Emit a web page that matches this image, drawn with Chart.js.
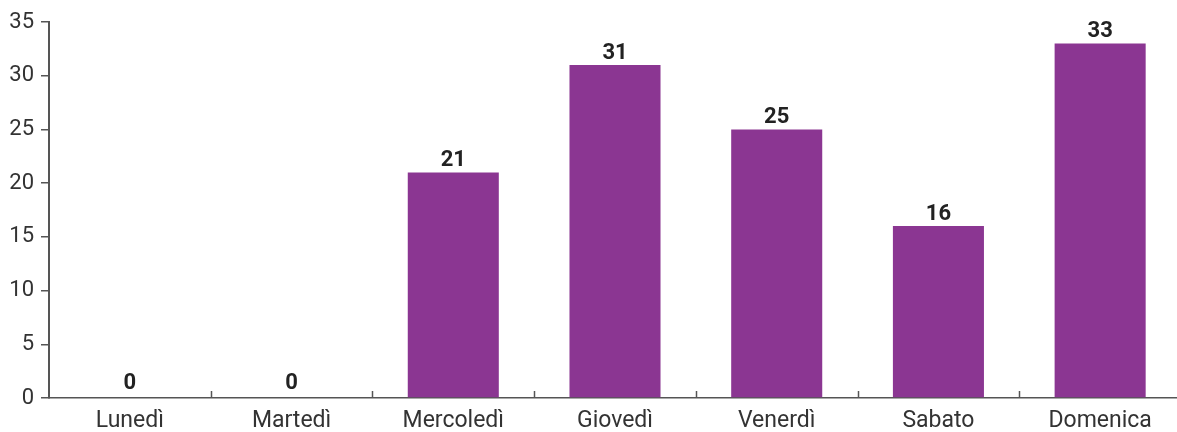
<!DOCTYPE html>
<html>
<head>
<meta charset="utf-8">
<script src="https://cdn.jsdelivr.net/npm/chart.js@4/dist/chart.umd.min.js"></script>
<style>
  html, body { margin: 0; padding: 0; background: #ffffff; }
  #wrap { width: 1177px; height: 432px; position: relative; overflow: hidden; }
  #c { display: block; }
</style>
</head>
<body>
<div id="wrap"><canvas id="c" width="1181" height="432"></canvas></div>
<script>
// Giorni della settimana e conteggi
const categories = ['Lunedì', 'Martedì', 'Mercoledì', 'Giovedì', 'Venerdì', 'Sabato', 'Domenica'];
const values = [0, 0, 21, 31, 25, 16, 33];
const yTicks = [0, 5, 10, 15, 20, 25, 30, 35];

const AXIS_COLOR = '#555555';
const TEXT_COLOR = '#333333';
const BAR_COLOR = '#8b3692';
const FONT = 'Roboto, "Liberation Sans", sans-serif';

// Short tick marks pointing up from the x axis at each category boundary
const innerTicks = {
  id: 'innerTicks',
  afterDatasetsDraw(chart) {
    const x = chart.scales.x, area = chart.chartArea, ctx = chart.ctx;
    const half = (x.getPixelForValue(1) - x.getPixelForValue(0)) / 2;
    ctx.save();
    ctx.strokeStyle = AXIS_COLOR;
    ctx.lineWidth = 1.5;
    for (let i = 1; i < categories.length; i++) {
      const px = Math.round(x.getPixelForValue(i) - half) + 0.5;
      ctx.beginPath();
      ctx.moveTo(px, area.bottom);
      ctx.lineTo(px, area.bottom - 7);
      ctx.stroke();
    }
    ctx.restore();
  }
};

// Value labels above each bar
const valueLabels = {
  id: 'valueLabels',
  afterDatasetsDraw(chart) {
    const ctx = chart.ctx;
    const meta = chart.getDatasetMeta(0);
    ctx.save();
    ctx.fillStyle = '#222222';
    ctx.font = 'bold 22px ' + FONT;
    ctx.textAlign = 'center';
    ctx.textBaseline = 'alphabetic';
    meta.data.forEach((bar, i) => {
      ctx.fillText(String(values[i]), bar.x, bar.y - (values[i] === 0 ? 9 : 6));
    });
    ctx.restore();
  }
};

new Chart(document.getElementById('c'), {
  type: 'bar',
  data: {
    labels: categories,
    datasets: [{
      data: values,
      backgroundColor: BAR_COLOR,
      borderWidth: 0,
      categoryPercentage: 1,
      barPercentage: 0.563
    }]
  },
  options: {
    responsive: false,
    animation: false,
    layout: { padding: { top: 22, right: 0, left: 0, bottom: 0 } },
    plugins: {
      legend: { display: false },
      tooltip: { enabled: false }
    },
    scales: {
      x: {
        grid: { display: false, drawTicks: false },
        border: { display: true, color: AXIS_COLOR, width: 1.5 },
        ticks: {
          color: TEXT_COLOR,
          font: { family: FONT, size: 23, weight: 400 },
          padding: 9,
          maxRotation: 0,
          autoSkip: false
        },
        afterFit(scale) { scale.height = 34; }
      },
      y: {
        min: 0,
        max: 35,
        afterBuildTicks(scale) { scale.ticks = yTicks.map(v => ({ value: v })); },
        grid: {
          display: true,
          drawOnChartArea: false,
          drawTicks: true,
          tickLength: 8,
          color: AXIS_COLOR,
          lineWidth: 1.5
        },
        border: { display: true, color: AXIS_COLOR, width: 2 },
        ticks: {
          color: TEXT_COLOR,
          font: { family: FONT, size: 22, weight: 400 },
          padding: 7
        },
        afterFit(scale) { scale.width = 49; }
      }
    }
  },
  plugins: [innerTicks, valueLabels]
});
</script>
</body>
</html>
